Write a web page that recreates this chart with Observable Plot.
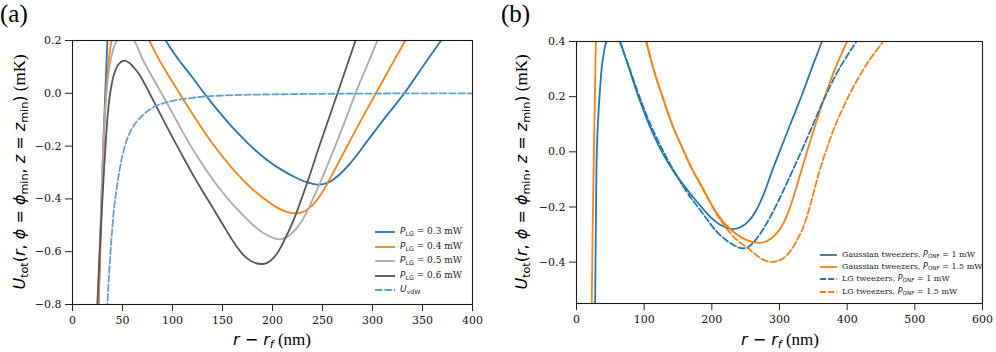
<!DOCTYPE html>
<html>
<head>
<meta charset="utf-8">
<script src="https://cdn.jsdelivr.net/npm/d3@7"></script>
<script src="https://cdn.jsdelivr.net/npm/@observablehq/plot@0.6"></script>
<style>
  html, body { margin: 0; padding: 0; background: #fff; }
  #wrap { position: relative; width: 996px; height: 352px; overflow: hidden; background: #fff; }
  #wrap svg { position: absolute; top: 0; }
  .panel-tag { position: absolute; font-family: "Liberation Serif", serif; font-size: 25px; line-height: 1; }
  .ylab, .xlab { position: absolute; white-space: nowrap; font-size: 16px; line-height: 1; color: #000; }
  .ylab { transform: translate(-50%, -50%) rotate(-90deg); }
  .xlab { transform: translate(-50%, -50%); }
  .m { font-family: "DejaVu Sans", sans-serif; font-style: italic; }
  .mu { font-family: "DejaVu Sans", sans-serif; font-style: normal; }
  .s { font-family: "Liberation Serif", serif; font-size: 17px; }
  sub { font-size: 70%; vertical-align: -0.3em; line-height: 0; }
  .leg { position: absolute; white-space: nowrap; font-family: "DejaVu Serif", serif; color: #222; line-height: 1; }
</style>
</head>
<body>
<div id="wrap"></div>
<script>
// ---------- Panel (a) data: r - r_f (nm), U_tot (mK) ----------
const aXTicks = [0, 50, 100, 150, 200, 250, 300, 350, 400];
const aYTicks = [-0.8, -0.6, -0.4, -0.2, 0.0, 0.2];

const plg03 = [[25.8,-0.85],[27.5,-0.6],[29.5,-0.35],[31.5,-0.12],[33.3,0.05],[35,0.2],[38,0.36],[44,0.46],[52,0.48],[62,0.44],[72,0.37],[82,0.29],[93.3,0.2],[106,0.128],[120,0.06],[131.7,0],[140,-0.04],[160,-0.129],[172,-0.176],[180,-0.206],[188,-0.233],[200,-0.268],[210,-0.292],[221,-0.315],[233,-0.335],[245,-0.346],[256,-0.338],[267.7,-0.305],[280,-0.255],[295,-0.18],[312,-0.095],[331.8,0],[350,0.1],[368.6,0.2],[385,0.29]];
const plg04 = [[26,-0.85],[27.8,-0.6],[29.8,-0.35],[32,-0.12],[34.5,0.05],[37,0.15],[39,0.2],[44,0.27],[52,0.305],[60,0.3],[68,0.26],[76.7,0.2],[88,0.118],[100,0.043],[107,0],[120,-0.078],[140,-0.19],[160,-0.285],[180,-0.363],[200,-0.422],[212,-0.446],[224,-0.455],[233,-0.445],[241,-0.42],[248,-0.385],[254.4,-0.345],[267.7,-0.25],[285,-0.127],[303.4,0],[318,0.1],[332.8,0.2],[345,0.285]];
const plg05 = [[25.3,-0.85],[27,-0.6],[29,-0.38],[31,-0.18],[33.5,-0.02],[37,0.1],[41,0.17],[44.5,0.2],[53,0.228],[61.5,0.2],[70,0.13],[80,0.06],[89,0],[100,-0.075],[110,-0.145],[120,-0.21],[130,-0.27],[140,-0.325],[150,-0.375],[160,-0.42],[170,-0.46],[180,-0.497],[190,-0.527],[200,-0.547],[207,-0.553],[215,-0.543],[222,-0.52],[230,-0.48],[244.4,-0.367],[261,-0.216],[272,-0.11],[283,0],[294,0.1],[305,0.2],[318,0.32]];
const plg06 = [[24.3,-0.85],[26,-0.7],[28.3,-0.52],[30.5,-0.36],[33.3,-0.18],[36,-0.05],[38.5,0.02],[41.7,0.074],[46,0.11],[51.7,0.124],[57,0.115],[62,0.095],[66.7,0.072],[73,0.03],[80,-0.021],[90,-0.095],[100,-0.167],[110,-0.237],[120,-0.306],[130,-0.37],[140,-0.432],[150,-0.495],[158,-0.545],[165,-0.585],[171,-0.613],[181,-0.64],[191.5,-0.646],[198,-0.634],[204.4,-0.608],[212,-0.555],[221,-0.481],[234.4,-0.342],[247.7,-0.19],[265,0],[283,0.2],[295,0.33]];
const uvdw = [[34.6,-0.82],[36,-0.72],[37.5,-0.63],[39.4,-0.53],[42,-0.42],[45,-0.34],[49.4,-0.245],[55,-0.17],[60,-0.13],[67.7,-0.092],[80,-0.055],[92,-0.036],[104,-0.026],[130,-0.013],[160,-0.007],[200,-0.004],[250,-0.002],[300,-0.001],[350,0],[400,0]];

// ---------- Panel (b) data ----------
const bXTicks = [0, 100, 200, 300, 400, 500, 600];
const bYTicks = [-0.4, -0.2, 0.0, 0.2, 0.4];

const gauss1 = [[27.3,-0.6],[28.5,-0.3],[30,0],[32,0.12],[34,0.2],[38,0.32],[44,0.4],[50,0.435],[56,0.44],[61,0.425],[64.6,0.4],[78,0.3],[91.6,0.2],[108,0.095],[126.2,0],[146,-0.08],[168,-0.151],[183,-0.195],[197.6,-0.236],[215,-0.268],[232,-0.28],[245,-0.27],[256.7,-0.245],[266,-0.21],[276.4,-0.155],[289,-0.07],[301,0.006],[316,0.1],[333,0.205],[348,0.305],[362.6,0.4],[372,0.47]];
const gauss15 = [[22.4,-0.6],[23.5,-0.35],[25,-0.1],[26.8,0.15],[28.6,0.4],[31,0.6],[36,0.8],[45,0.9],[58,0.85],[72,0.72],[88,0.56],[103,0.4],[115,0.29],[127,0.2],[142,0.095],[158,0.006],[170,-0.058],[182.8,-0.115],[195,-0.17],[207.5,-0.223],[220,-0.262],[232,-0.29],[245,-0.312],[256.7,-0.325],[269,-0.33],[278,-0.327],[286.3,-0.317],[296,-0.295],[306,-0.258],[315.8,-0.2],[323,-0.145],[330.6,-0.082],[340.6,0],[352,0.09],[365,0.187],[382,0.3],[399.6,0.399],[410,0.46]];
const lg1 = [[64,0.4],[78,0.305],[93,0.2],[110,0.095],[128.6,0],[143,-0.065],[158.1,-0.127],[170,-0.17],[182.8,-0.211],[195,-0.252],[207.5,-0.29],[220,-0.318],[232,-0.338],[240,-0.347],[246.8,-0.35],[255,-0.343],[266.6,-0.314],[276,-0.28],[286.3,-0.236],[296,-0.19],[306,-0.139],[319,-0.07],[333,0.006],[348,0.09],[365,0.187],[388,0.3],[413,0.397]];
const lg15 = [[103,0.4],[115,0.29],[127,0.2],[142,0.095],[158,0.004],[170,-0.06],[182.8,-0.118],[195,-0.173],[207.5,-0.228],[220,-0.272],[232,-0.308],[245,-0.335],[256.7,-0.356],[266,-0.375],[276.4,-0.392],[284,-0.398],[291,-0.399],[298,-0.395],[306,-0.385],[316,-0.36],[326,-0.32],[334,-0.28],[343,-0.215],[351,-0.142],[360,-0.062],[370,0.012],[379.8,0.08],[395,0.165],[409.4,0.236],[430,0.322],[452,0.396]];

// ---------- styling (kept separate from data) ----------
const BLUE = "#1f77b4", ORANGE = "#ff7f0e", LGRAY = "#ababab", DGRAY = "#555555", VDW = "#62a0d4";
const DASH = "6.5,2.8";
const LW = 1.8;

const toRows = arr => arr.map(([x, y]) => ({x, y}));
const fmt1 = d3.format(".1f");

function lineMark(arr, stroke, dash) {
  return Plot.line(toRows(arr), {
    x: "x", y: "y", stroke, strokeWidth: LW, curve: "catmull-rom",
    clip: true, strokeDasharray: dash || null
  });
}

function panel(opts) {
  return Plot.plot({
    width: 498, height: 352,
    marginLeft: opts.ml, marginRight: opts.mr, marginTop: opts.mt, marginBottom: opts.mb,
    style: { fontFamily: "DejaVu Serif, serif", fontSize: "11px", color: "#111", background: "transparent", overflow: "visible" },
    x: { domain: opts.xd, label: null },
    y: { domain: opts.yd, label: null },
    marks: [
      ...opts.lines,
      Plot.frame({ stroke: "#1a1a1a", strokeWidth: 1.1 }),
      Plot.axisX({ ticks: opts.xt, tickSize: 7, tickPadding: 5, label: null, tickFormat: d3.format("d"), stroke: "#222" }),
      Plot.axisY({ ticks: opts.yt, tickSize: 7, tickPadding: 4, label: null, tickFormat: fmt1, stroke: "#222" })
    ]
  });
}

const wrap = document.getElementById("wrap");

const svgA = panel({
  ml: 72, mr: 26, mt: 40, mb: 48, xd: [0, 400], yd: [-0.8, 0.2], xt: aXTicks, yt: aYTicks,
  lines: [
    lineMark(plg03, BLUE), lineMark(plg04, ORANGE), lineMark(plg05, LGRAY), lineMark(plg06, DGRAY),
    lineMark(uvdw, VDW, DASH)
  ]
});
svgA.style.left = "0px";
wrap.appendChild(svgA);

const svgB = panel({
  ml: 78, mr: 14, mt: 41, mb: 49, xd: [0, 600], yd: [-0.55, 0.4], xt: bXTicks, yt: bYTicks,
  lines: [
    lineMark(gauss1, BLUE), lineMark(gauss15, ORANGE),
    lineMark(lg1, BLUE, DASH), lineMark(lg15, ORANGE, DASH)
  ]
});
svgB.style.left = "498px";
wrap.appendChild(svgB);

// ---------- text overlays ----------
function addHTML(cls, html, left, top, extra) {
  const d = document.createElement("div");
  d.className = cls;
  d.innerHTML = html;
  d.style.left = left + "px";
  d.style.top = top + "px";
  if (extra) Object.assign(d.style, extra);
  wrap.appendChild(d);
  return d;
}

addHTML("panel-tag", "(a)", 0, 1);
addHTML("panel-tag", "(b)", 501, 1);

const ylabHTML = '<span class="m">U</span><sub class="mu">tot</sub><span class="mu">(</span><span class="m">r</span><span class="mu">, </span><span class="m">&#981;</span><span class="mu"> = </span><span class="m">&#981;</span><sub class="mu">min</sub><span class="mu">, </span><span class="m">z</span><span class="mu"> = </span><span class="m">z</span><sub class="mu">min</sub><span class="mu">)</span><span class="s"> (mK)</span>';
addHTML("ylab", ylabHTML, 19, 172);
addHTML("ylab", ylabHTML, 521, 172);

const xlabHTML = '<span class="m">r</span><span class="mu"> &minus; </span><span class="m">r</span><sub class="m">f</sub><span class="s"> (nm)</span>';
addHTML("xlab", xlabHTML, 272, 339);
addHTML("xlab", xlabHTML, 780, 339);

// ---------- legends ----------
function legendRow(x0, len, yc, stroke, dash, html, fs) {
  const s = document.createElementNS("http://www.w3.org/2000/svg", "svg");
  s.setAttribute("width", len + 2);
  s.setAttribute("height", 6);
  s.style.position = "absolute";
  s.style.left = (x0 - 1) + "px";
  s.style.top = (yc - 3) + "px";
  const l = document.createElementNS("http://www.w3.org/2000/svg", "line");
  l.setAttribute("x1", 1); l.setAttribute("x2", len + 1);
  l.setAttribute("y1", 3); l.setAttribute("y2", 3);
  l.setAttribute("stroke", stroke); l.setAttribute("stroke-width", LW);
  if (dash) l.setAttribute("stroke-dasharray", dash);
  s.appendChild(l);
  wrap.appendChild(s);
  addHTML("leg", html, x0 + len + 5, yc, { fontSize: fs + "px", transform: "translateY(-55%)" });
}

const legA = [
  { c: BLUE, d: null, t: '<span class="m">P</span><sub class="mu">LG</sub> = 0.3 mW' },
  { c: ORANGE, d: null, t: '<span class="m">P</span><sub class="mu">LG</sub> = 0.4 mW' },
  { c: LGRAY, d: null, t: '<span class="m">P</span><sub class="mu">LG</sub> = 0.5 mW' },
  { c: DGRAY, d: null, t: '<span class="m">P</span><sub class="mu">LG</sub> = 0.6 mW' },
  { c: VDW, d: "7.3,2.2", t: '<span class="m">U</span><sub class="mu">vdW</sub>' }
];
const legAY = [232.3, 246.7, 261.3, 275.7, 290];
legA.forEach((e, i) => legendRow(375, 20, legAY[i], e.c, e.d, e.t, 9));

const legB = [
  { c: BLUE, d: null, t: 'Gaussian tweezers, <span class="m">P</span><sub class="mu">ONF</sub> = 1 mW' },
  { c: ORANGE, d: null, t: 'Gaussian tweezers, <span class="m">P</span><sub class="mu">ONF</sub> = 1.5 mW' },
  { c: BLUE, d: "6,2.2", t: 'LG tweezers, <span class="m">P</span><sub class="mu">ONF</sub> = 1 mW' },
  { c: ORANGE, d: "6,2.2", t: 'LG tweezers, <span class="m">P</span><sub class="mu">ONF</sub> = 1.5 mW' }
];
const legBY = [254.7, 267, 279.3, 291.7];
legB.forEach((e, i) => legendRow(820, 17, legBY[i], e.c, e.d, e.t, 8));
</script>
</body>
</html>
